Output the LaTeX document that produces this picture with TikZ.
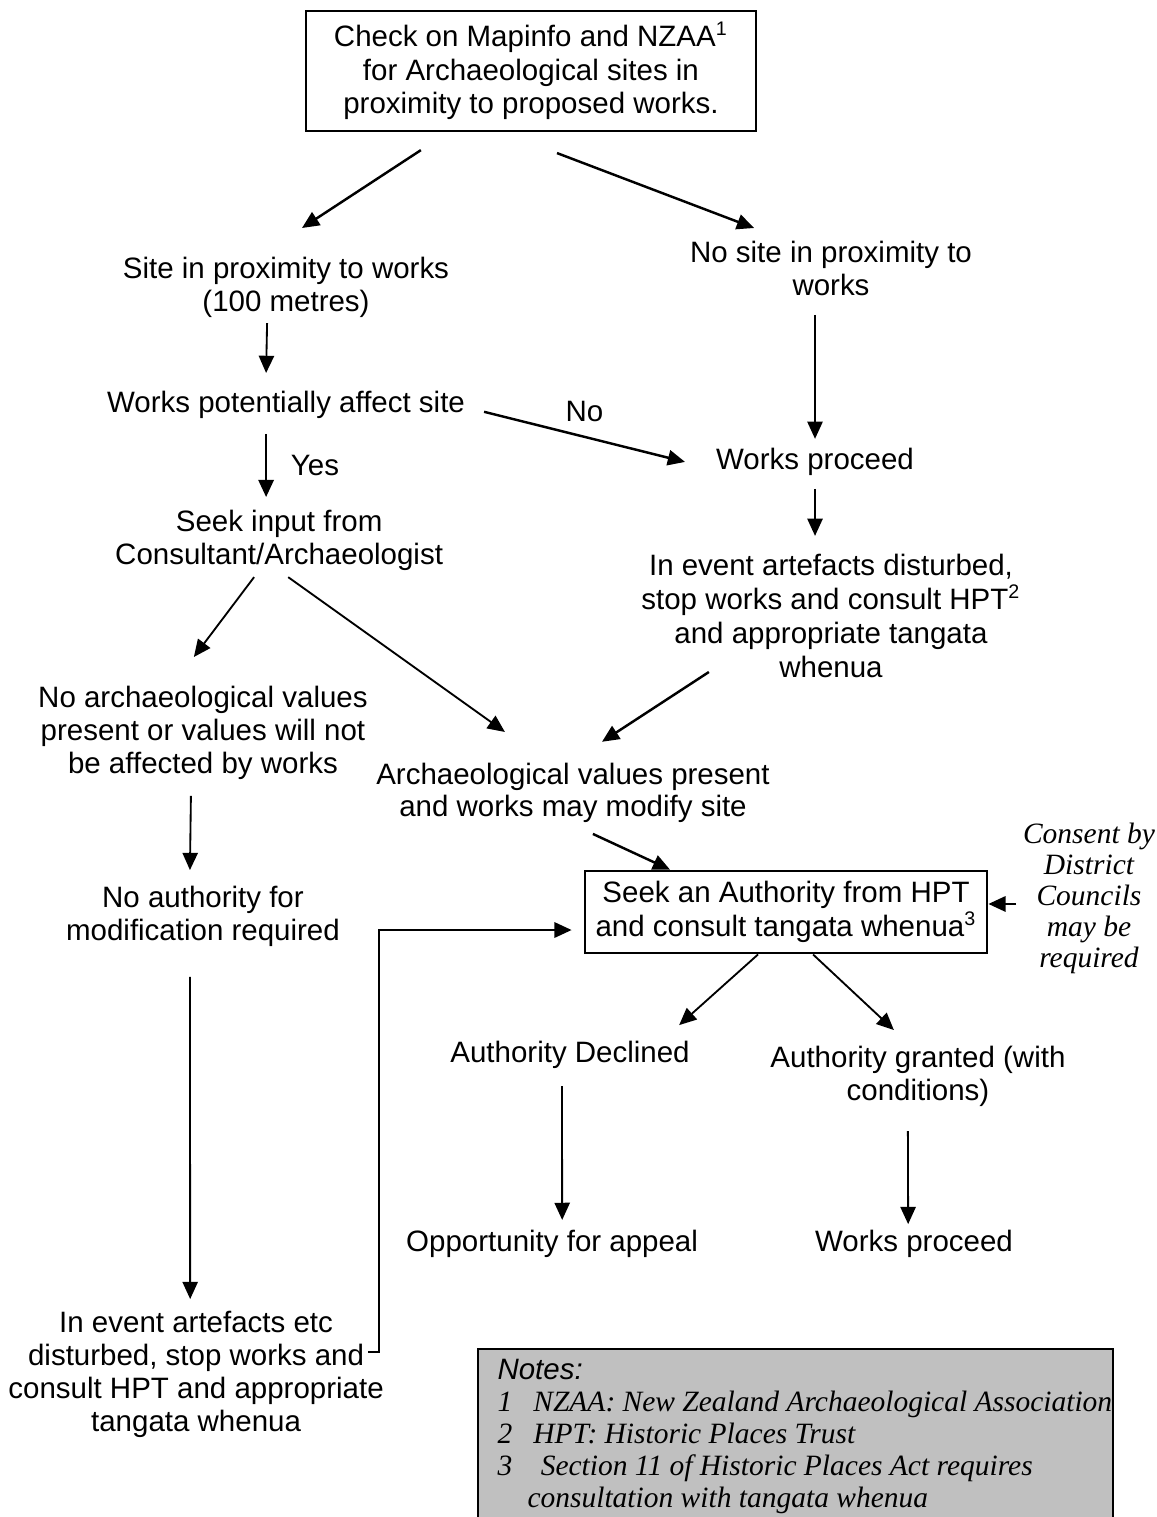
\documentclass[tikz,border=0pt]{standalone}
\usepackage{fontspec}
\setmainfont{Liberation Sans}
\newfontfamily\serifit{Liberation Serif}
\usepackage{tikz}
\usetikzlibrary{arrows.meta,positioning}

\definecolor{notegray}{RGB}{192,192,192}

\tikzset{
  every node/.style={font=\fontsize{12}{13.4}\selectfont, inner sep=0pt, align=center},
  wide/.style={font=\fontsize{12}{13.8}\selectfont},
  boxed/.style={draw, line width=0.8pt},
  consenttext/.style={font=\fontsize{12}{12.6}\selectfont\serifit\itshape},
  arr/.style={-{Triangle[length=7pt,width=6.2pt]}, line width=0.75pt},
  thickarr/.style={arr, line width=1pt},
}

\begin{document}
\begin{tikzpicture}[on grid]
\clip (0,0) rectangle (470.5pt,-617.4pt);

\node [boxed, wide, minimum width=183.2pt, minimum height=48.8pt] (check) at (216.1pt,-28.9pt)
  {Check on Mapinfo and NZAA\textsuperscript{1}\\for Archaeological sites in\\proximity to proposed works.};
\node [below left=87.9pt and 99.7pt of check] (site) {Site in proximity to works\\(100 metres)};
\node [below right=80.2pt and 122.1pt of check] (nosite) {No site in proximity to\\works};
\node [below=48pt of site] (affect) {Works potentially affect site};
\node [below left=78.9pt and 6.5pt of nosite] (proceed1) {Works proceed};
\node [below left=55pt and 2.8pt of affect] (seek) {Seek input from\\Consultant/Archaeologist};
\node [below right=62.7pt and 6.5pt of proceed1, wide] (event1)
  {In event artefacts disturbed,\\stop works and consult HPT\textsuperscript{2}\\and appropriate tangata\\whenua};
\node [below left=78.5pt and 31pt of seek] (novalues)
  {No archaeological values\\present or values will not\\be affected by works};
\node [below left=72pt and 105pt of event1] (values) {Archaeological values present\\and works may modify site};
\node [below=74.5pt of novalues] (noauth) {No authority for\\modification required};
\node [below right=48.5pt and 86.7pt of values, boxed, line width=1.1pt, wide,
       minimum width=163.6pt, minimum height=33.4pt] (authority)
  {Seek an Authority from HPT\\and consult tangata whenua\textsuperscript{3}};
\node [above right=5.7pt and 123.3pt of authority, consenttext] (consent)
  {Consent by\\District\\Councils\\may be\\required};
\node [below left=58.2pt and 87.9pt of authority] (declined) {Authority Declined};
\node [below right=66.7pt and 53.7pt of authority] (granted) {Authority granted (with\\conditions)};
\node [below left=76.9pt and 7.3pt of declined] (appeal) {Opportunity for appeal};
\node [below left=68.4pt and 1.6pt of granted] (proceed2) {Works proceed};
\node [below left=186.4pt and 2.8pt of noauth] (event2)
  {In event artefacts etc\\disturbed, stop works and\\consult HPT and appropriate\\tangata whenua};

% notes
\node [anchor=north west, draw, line width=0.8pt, fill=notegray,
       minimum width=258.5pt, minimum height=90pt] (notes) at (194.1pt,-548.6pt) {};
\node [anchor=north west, align=left, font=\fontsize{12}{13}\selectfont] (notelist)
  at ([xshift=8.2pt,yshift=-4.5pt]notes.north west)
  {\itshape Notes:\\
   \serifit\itshape\makebox[14.6pt][l]{1}NZAA: New Zealand Archaeological Association\\
   \serifit\itshape\makebox[14.6pt][l]{2}HPT: Historic Places Trust\\
   \serifit\itshape\makebox[14.6pt][l]{3} Section 11 of Historic Places Act requires\\
   \serifit\itshape\hspace*{12.2pt}consultation with tangata whenua};

\draw [thickarr] ([xshift=-44.8pt,yshift=-32.2pt]check.center) -- ([xshift=6.5pt,yshift=24pt]site.center);
\draw [thickarr] ([xshift=10.6pt,yshift=-33.4pt]check.center) -- ([xshift=-31.3pt,yshift=16.3pt]nosite.center);
\draw [arr] ([xshift=-7.7pt,yshift=-14.7pt]site.center) -- ([xshift=-8.1pt,yshift=13pt]affect.center);
\draw [arr] ([xshift=-6.5pt,yshift=-19.1pt]nosite.center) -- ([yshift=9.4pt]proceed1.center);
\draw [thickarr] ([xshift=80.6pt,yshift=-2.8pt]affect.center)
  -- node [midway, above=5.7pt] (no) {No} ([xshift=-52.9pt]proceed1.center);
\draw [thickarr] ([xshift=-8.1pt,yshift=-11.8pt]affect.center)
  -- node [midway, right=9.6pt] (yes) {Yes} ([xshift=-5.3pt,yshift=17.5pt]seek.center);
\draw [arr] ([yshift=-11pt]proceed1.center) -- ([xshift=-6.5pt,yshift=32.6pt]event1.center);
\draw [arr] ([xshift=-10.2pt,yshift=-15.1pt]seek.center) -- ([xshift=-3.7pt,yshift=30.9pt]novalues.center);
\draw [arr] ([xshift=3.7pt,yshift=-15.1pt]seek.center) -- ([xshift=-27.7pt,yshift=24.8pt]values.center);
\draw [thickarr] ([xshift=-49.7pt,yshift=-22.8pt]event1.center) -- ([xshift=11.8pt,yshift=20.8pt]values.center);
\draw [arr] ([xshift=-4.9pt,yshift=-25.6pt]novalues.center) -- ([xshift=-5.3pt,yshift=18.7pt]noauth.center);
\draw [thickarr] ([xshift=8.1pt,yshift=-16.7pt]values.center) -- ([xshift=-47.2pt]authority.north);
\draw [thickarr] ([xshift=-29.7pt,yshift=-2.4pt]consent.center) -- ([yshift=3.3pt]authority.east);
\draw [arr] ([xshift=-5.3pt,yshift=-24.8pt]noauth.center) -- ([xshift=-2.4pt,yshift=30.5pt]event2.center);
\draw [thickarr] ([xshift=70pt,yshift=9pt]event2.center) -- ++(4.5pt,0)
  |- ([xshift=-4.9pt,yshift=-7.3pt]authority.west);
\draw [arr] ([xshift=-11.4pt]authority.south) -- ([xshift=44.4pt,yshift=12.2pt]declined.center);
\draw [arr] ([xshift=11pt]authority.south) -- ([xshift=-9.8pt,yshift=18.7pt]granted.center);
\draw [arr] ([xshift=-3.3pt,yshift=-12.6pt]declined.center) -- ([xshift=4.1pt,yshift=9.8pt]appeal.center);
\draw [arr] ([xshift=-4.1pt,yshift=-22.4pt]granted.center) -- ([xshift=-2.4pt,yshift=8.1pt]proceed2.center);
\end{tikzpicture}
\end{document}
